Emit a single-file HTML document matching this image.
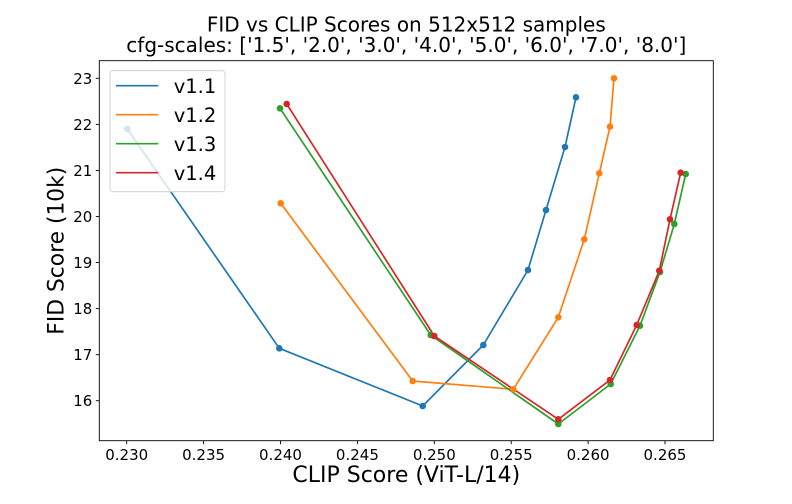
<!DOCTYPE html>
<html>
<head>
<meta charset="utf-8">
<style>
  html, body { margin: 0; padding: 0; background: #ffffff; }
  svg { display: block; }
  text { font-family: "DejaVu Sans", "Liberation Sans", sans-serif; fill: #000; }
</style>
</head>
<body>
<svg width="792" height="504" viewBox="0 0 792 504" xmlns="http://www.w3.org/2000/svg">
  <rect x="0" y="0" width="792" height="504" fill="#ffffff"/>

  <!-- Title -->
  <text x="406.3" y="31.6" font-size="20" text-anchor="middle">FID vs CLIP Scores on 512x512 samples</text>
  <text x="406.3" y="51.8" font-size="20" text-anchor="middle">cfg-scales: ['1.5', '2.0', '3.0', '4.0', '5.0', '6.0', '7.0', '8.0']</text>

  <!-- Series -->
  <g fill="none" stroke-width="1.7" stroke-linejoin="round" stroke-linecap="square">
    <polyline stroke="#1f77b4" points="127.3,129 279.3,348.3 422.7,406 483.3,345 528,270 546,210 565,147 576,97.3"/>
    <polyline stroke="#ff7f0e" points="280.7,203.3 412.7,381 513.3,389.3 558.3,317.3 584.3,239.3 599.3,173.3 610,126.7 614,78.3"/>
    <polyline stroke="#2ca02c" points="280,108.3 430.7,335 558.3,424 610.7,384 640,325.7 660,272 674.3,224 685.7,174"/>
    <polyline stroke="#d62728" points="286.7,104 434.3,336 558.3,419.3 610,380 636.7,325 659.3,270.7 670,219.3 680.7,172.7"/>
  </g>
  <g fill="#1f77b4">
    <circle cx="127.3" cy="129" r="3.3"/><circle cx="279.3" cy="348.3" r="3.3"/><circle cx="422.7" cy="406" r="3.3"/><circle cx="483.3" cy="345" r="3.3"/>
    <circle cx="528" cy="270" r="3.3"/><circle cx="546" cy="210" r="3.3"/><circle cx="565" cy="147" r="3.3"/><circle cx="576" cy="97.3" r="3.3"/>
  </g>
  <g fill="#ff7f0e">
    <circle cx="280.7" cy="203.3" r="3.3"/><circle cx="412.7" cy="381" r="3.3"/><circle cx="513.3" cy="389.3" r="3.3"/><circle cx="558.3" cy="317.3" r="3.3"/>
    <circle cx="584.3" cy="239.3" r="3.3"/><circle cx="599.3" cy="173.3" r="3.3"/><circle cx="610" cy="126.7" r="3.3"/><circle cx="614" cy="78.3" r="3.3"/>
  </g>
  <g fill="#2ca02c">
    <circle cx="280" cy="108.3" r="3.3"/><circle cx="430.7" cy="335" r="3.3"/><circle cx="558.3" cy="424" r="3.3"/><circle cx="610.7" cy="384" r="3.3"/>
    <circle cx="640" cy="325.7" r="3.3"/><circle cx="660" cy="272" r="3.3"/><circle cx="674.3" cy="224" r="3.3"/><circle cx="685.7" cy="174" r="3.3"/>
  </g>
  <g fill="#d62728">
    <circle cx="286.7" cy="104" r="3.3"/><circle cx="434.3" cy="336" r="3.3"/><circle cx="558.3" cy="419.3" r="3.3"/><circle cx="610" cy="380" r="3.3"/>
    <circle cx="636.7" cy="325" r="3.3"/><circle cx="659.3" cy="270.7" r="3.3"/><circle cx="670" cy="219.3" r="3.3"/><circle cx="680.7" cy="172.7" r="3.3"/>
  </g>

  <!-- Axes frame -->
  <rect x="99.3" y="60.7" width="614" height="380" fill="none" stroke="#000" stroke-width="0.9"/>

  <!-- X ticks -->
  <g stroke="#000" stroke-width="0.9">
    <line x1="126.7" y1="440.7" x2="126.7" y2="444.2"/>
    <line x1="203.6" y1="440.7" x2="203.6" y2="444.2"/>
    <line x1="280.5" y1="440.7" x2="280.5" y2="444.2"/>
    <line x1="357.4" y1="440.7" x2="357.4" y2="444.2"/>
    <line x1="434.3" y1="440.7" x2="434.3" y2="444.2"/>
    <line x1="511.2" y1="440.7" x2="511.2" y2="444.2"/>
    <line x1="588.1" y1="440.7" x2="588.1" y2="444.2"/>
    <line x1="665" y1="440.7" x2="665" y2="444.2"/>
  </g>
  <g font-size="15" text-anchor="middle">
    <text x="126.7" y="460">0.230</text>
    <text x="203.6" y="460">0.235</text>
    <text x="280.5" y="460">0.240</text>
    <text x="357.4" y="460">0.245</text>
    <text x="434.3" y="460">0.250</text>
    <text x="511.2" y="460">0.255</text>
    <text x="588.1" y="460">0.260</text>
    <text x="665" y="460">0.265</text>
  </g>

  <!-- Y ticks -->
  <g stroke="#000" stroke-width="0.9">
    <line x1="95.8" y1="78.3" x2="99.3" y2="78.3"/>
    <line x1="95.8" y1="124.4" x2="99.3" y2="124.4"/>
    <line x1="95.8" y1="170.4" x2="99.3" y2="170.4"/>
    <line x1="95.8" y1="216.5" x2="99.3" y2="216.5"/>
    <line x1="95.8" y1="262.5" x2="99.3" y2="262.5"/>
    <line x1="95.8" y1="308.6" x2="99.3" y2="308.6"/>
    <line x1="95.8" y1="354.7" x2="99.3" y2="354.7"/>
    <line x1="95.8" y1="400.7" x2="99.3" y2="400.7"/>
  </g>
  <g font-size="15" text-anchor="end">
    <text x="92.3" y="83.8">23</text>
    <text x="92.3" y="129.9">22</text>
    <text x="92.3" y="175.9">21</text>
    <text x="92.3" y="222">20</text>
    <text x="92.3" y="268">19</text>
    <text x="92.3" y="314.1">18</text>
    <text x="92.3" y="360.2">17</text>
    <text x="92.3" y="406.2">16</text>
  </g>

  <!-- Axis labels -->
  <text x="406.3" y="482" font-size="22" text-anchor="middle">CLIP Score (ViT-L/14)</text>
  <text transform="translate(63.3,250.7) rotate(-90)" x="0" y="0" font-size="21.8" text-anchor="middle">FID Score (10k)</text>

  <!-- Legend -->
  <rect x="110" y="70.7" width="115" height="121" rx="3" ry="3" fill="#ffffff" fill-opacity="0.8" stroke="#cccccc" stroke-width="0.8"/>
  <g stroke-width="1.7">
    <line x1="116" y1="85.7" x2="158.3" y2="85.7" stroke="#1f77b4"/>
    <line x1="116" y1="114.7" x2="158.3" y2="114.7" stroke="#ff7f0e"/>
    <line x1="116" y1="143.7" x2="158.3" y2="143.7" stroke="#2ca02c"/>
    <line x1="116" y1="172.7" x2="158.3" y2="172.7" stroke="#d62728"/>
  </g>
  <g font-size="19.5">
    <text x="173.7" y="92.8">v1.1</text>
    <text x="173.7" y="121.8">v1.2</text>
    <text x="173.7" y="150.8">v1.3</text>
    <text x="173.7" y="179.8">v1.4</text>
  </g>
</svg>
</body>
</html>
